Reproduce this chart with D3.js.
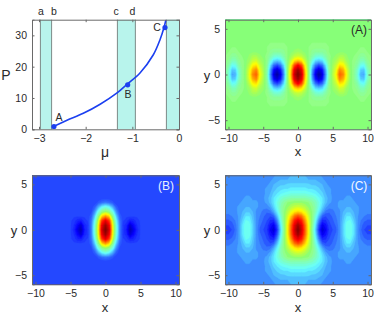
<!DOCTYPE html>
<html><head><meta charset="utf-8">
<script src="https://cdnjs.cloudflare.com/ajax/libs/d3/7.8.5/d3.min.js"></script>
<style>html,body{margin:0;padding:0;background:#fff}svg{display:block}text{font-family:"Liberation Sans",Arial,sans-serif;fill:#2a2a2a}</style>
</head><body><svg id="c" width="374" height="315"></svg>
<script>
// Top-left panel
const curveMu=[-2.70,-2.4,-2.05,-1.69,-1.32,-1.12,-0.836,-0.55,-0.407,-0.32,-0.28];
const curveP=[0.85,2.9,5.1,8.0,11.7,14.3,18.0,23.8,28.6,32.6,35];
const pointMu=[-2.68,-1.1,-0.3];
const pointP=[0.9,14.2,32.5];
const pointNames=["A","B","C"];
const bandStart=[-2.97,-1.32,-0.27];
const bandEnd=[-2.73,-0.935,0];
const bandNames=["a","b","c","d"];
const bandNameMu=[-2.96,-2.68,-1.35,-1.0];
const muTicks=[-3,-2,-1,0];
const pTicks=[0,10,20,30];
const xTicks=[-10,-5,0,5,10];
const yTicks=[-5,0,5];
// Heat maps: one quadrant, x = 0, 0.5 ... 11 across, y = 0, 0.5 ... 6 down. Short rows end in the background.
const fieldA=[
[1.00,.93,.68,.50,.27,.10,.03,.09,.27,.46,.55,.62,.78,.74,.60,.52,.48,.42,.30,.29,.42,.48,.50],
[.97,.90,.66,.50,.29,.14,.08,.13,.29,.47,.54,.60,.74,.70,.59,.52,.48,.43,.33,.32,.43,.48,.50],
[.88,.80,.62,.50,.35,.24,.19,.23,.35,.48,.53,.57,.65,.63,.56,.51,.49,.46,.39,.38,.46,.49,.50],
[.68,.65,.57,.50,.41,.34,.32,.34,.41,.49,.52,.54,.58,.57,.53,.51,.49,.48,.44,.44,.48,.49,.50],
[.57,.56,.53,.50,.46,.42,.41,.42,.46,.49,.51,.52,.54,.54,.52,.50,.50,.49,.47,.47,.49,.50,.50],
[.53,.52,.51,.50,.48,.47,.47,.47,.48,.50,.50,.51,.51,.51,.51,.50,.50,.50,.49,.49,.50,.50,.50],
[.51,.51,.50,.50,.49,.49,.49,.49,.49]];
const backgroundA=.50;
const fieldB=[
[1.0,.92,.62,.42,.25,.18,.15,.05,.10,.16],
[.97,.89,.61,.41,.25,.18,.16,.08,.13,.17],
[.90,.82,.57,.38,.24,.19,.18,.15,.16,.18],
[.72,.66,.49,.33,.22,.19],
[.52,.49,.40,.27,.20],
[.40,.37,.30,.22],
[.24,.23,.21]];
const backgroundB=.19;
const fieldC=[
[1.0,.92,.78,.62,.48,.33,.17,.08,.12,.18,.20,.22,.27,.33,.39,.40,.35,.28,.23,.20,.19,.19,.20],
[.97,.90,.77,.62,.49,.35,.20,.11,.14,.19,.21,.23,.27,.33,.39,.40,.35,.28,.24,.21,.20,.20,.21],
[.90,.85,.73,.60,.50,.38,.25,.16,.17,.20,.22,.24,.27,.32,.37,.38,.33,.28,.25,.23,.22,.22,.22],
[.80,.76,.67,.58,.50,.41,.31,.22,.20,.21,.23,.25,.27,.31,.35,.35,.31,.28,.26,.25,.24,.24,.24],
[.66,.64,.60,.55,.50,.44,.36,.29,.24,.23,.24,.26,.27,.30,.32,.32,.30,.28,.27,.26,.26,.26,.26],
[.58,.57,.55,.52,.49,.45,.39,.33,.28,.26,.26,.27,.28,.29,.30,.30,.29,.28],
[.52,.52,.51,.50,.47,.44,.40,.35,.31,.28,.27,.27,.28,.28,.29,.29,.28],
[.45,.45,.45,.44,.43,.41,.38,.35,.31,.29,.27,.27,.27,.27,.28,.28],
[.40,.40,.40,.39,.38,.37,.35,.33,.30,.28],
[.36,.36,.36,.35,.35,.34,.33,.31,.29,.28],
[.33,.33,.33,.33,.32,.32,.31,.30,.28],
[.31,.31,.31,.30,.30,.30,.29,.28],
[.30,.30,.30,.29,.29,.29,.28]];
const backgroundC=.27;

const svg=d3.select("#c");
const frame="#6a6a6a";
function jet(v){
  const c=t=>255*Math.max(0,Math.min(1,1.5-Math.abs(4*v-t)));
  const lift=v>.1&&v<.5?150*(v-.1)/.4:0;
  return `rgb(${Math.round(Math.max(c(3),lift))},${Math.round(c(2))},${Math.round(c(1))})`;
}
function axes(g,x,y,xt,yt,w){
  const b=x.range(),r=y.range();
  const ax=g.append("g").attr("transform",`translate(0,${r[0]})`).call(d3.axisBottom(x).tickValues(xt).tickSize(-2.5).tickPadding(5).tickFormat(d=>String(d).replace("-","\u2212")));
  const ay=g.append("g").attr("transform",`translate(${b[0]},0)`).call(d3.axisLeft(y).tickValues(yt).tickSize(-2.5).tickPadding(5).tickFormat(d=>String(d).replace("-","\u2212")));
  const at=g.append("g").attr("transform",`translate(0,${r[1]})`).call(d3.axisTop(x).tickValues(xt).tickSize(-2.5).tickFormat(""));
  const ar=g.append("g").attr("transform",`translate(${b[1]},0)`).call(d3.axisRight(y).tickValues(yt).tickSize(-2.5).tickFormat(""));
  [ax,ay,at,ar].forEach(a=>{a.selectAll(".domain").attr("stroke",frame).attr("stroke-width",1);a.selectAll("line").attr("stroke",frame);a.selectAll("text").attr("font-size",10.5).attr("fill","#2a2a2a");});
}
function label(t,x,y,size,fill){
  svg.append("text").attr("x",x).attr("y",y).attr("text-anchor","middle").attr("dominant-baseline","central").attr("font-size",size).style("fill",fill||"#2a2a2a").text(t);
}
function heat(id,field,bg,levels,left,top,w,h){
  const nx=45,ny=25;
  const x=d3.scaleLinear().domain([-10.5,10.5]).range([left,left+w]);
  const y=d3.scaleLinear().domain([-6,6]).range([top+h,top]);
  const at=(i,j)=>{const row=field[Math.abs(j-12)];if(!row)return bg;const v=row[Math.abs(i-22)];return v===undefined?bg:v;};
  const values=[];
  for(let j=0;j<ny;j++)for(let i=0;i<nx;i++)values.push(at(i,j));
  const th=d3.range(levels).map(i=>i/levels);
  const contours=d3.contours().size([nx,ny]).smooth(true).thresholds(th)(values);
  const proj=d3.geoTransform({point(px,py){this.stream.point(x(-11+(px-.5)*.5),y(-6+(py-.5)*.5));}});
  const path=d3.geoPath(proj);
  svg.append("clipPath").attr("id",id).append("rect").attr("x",left).attr("y",top).attr("width",w).attr("height",h);
  const g=svg.append("g");
  g.append("g").attr("clip-path",`url(#${id})`).selectAll("path").data(contours).join("path")
    .attr("d",path).attr("fill",d=>jet(d.value+.5/levels)).attr("stroke",d=>jet(d.value+.5/levels)).attr("stroke-width",.3);
  axes(g,x,y,xTicks,yTicks,w);
}
// Top-left
const px=d3.scaleLinear().domain([-3.15,0]).range([32,179]);
const py=d3.scaleLinear().domain([0,35]).range([129.3,19.7]);
const g1=svg.append("g");
bandStart.forEach((s,i)=>{
  g1.append("rect").attr("x",px(s)).attr("y",py(35)).attr("width",px(bandEnd[i])-px(s)).attr("height",py(0)-py(35)).attr("fill","#b8f4ec");
  [s,bandEnd[i]].forEach(v=>{if(v<0)g1.append("line").attr("x1",px(v)).attr("x2",px(v)).attr("y1",py(0)).attr("y2",py(35)).attr("stroke","#7c8a88").attr("stroke-width",1);});
});
const line=d3.line().x((d,i)=>px(curveMu[i])).y((d,i)=>py(curveP[i])).curve(d3.curveCatmullRom);
svg.append("clipPath").attr("id","p1").append("rect").attr("x",32).attr("y",19.7).attr("width",147).attr("height",110);
g1.append("path").attr("clip-path","url(#p1)").attr("d",line(curveMu)).attr("fill","none").attr("stroke","#1c40f0").attr("stroke-width",1.6);
g1.selectAll("circle").data(pointMu).join("circle").attr("cx",d=>px(d)).attr("cy",(d,i)=>py(pointP[i])).attr("r",2.6).attr("fill","#1c40f0");
axes(g1,px,py,muTicks,pTicks,147);
[[59,117],[128,94],[157,27]].forEach((p,i)=>label(pointNames[i],p[0],p[1],10.5));
bandNames.forEach((n,i)=>label(n,px(bandNameMu[i]),11,10.5));
label("P",6,75,14);
label("\u03bc",105,152,14);
// Heat maps
heat("a",fieldA,backgroundA,64,225,19.7,146,109.6);
heat("b",fieldB,backgroundB,64,32,175.3,147,109);
heat("d",fieldC,backgroundC,40,225,175.3,146,109);
label("(A)",359,30,12);
label("(B)",166,186,12,"#e8f0ff");
label("(C)",359,186,12,"#f4f8ff");
label("y",207,75,13);label("x",298,151,13);
label("y",14,230,13);label("x",105,307,13);
label("y",207,230,13);label("x",298,307,13);
</script></body></html>
